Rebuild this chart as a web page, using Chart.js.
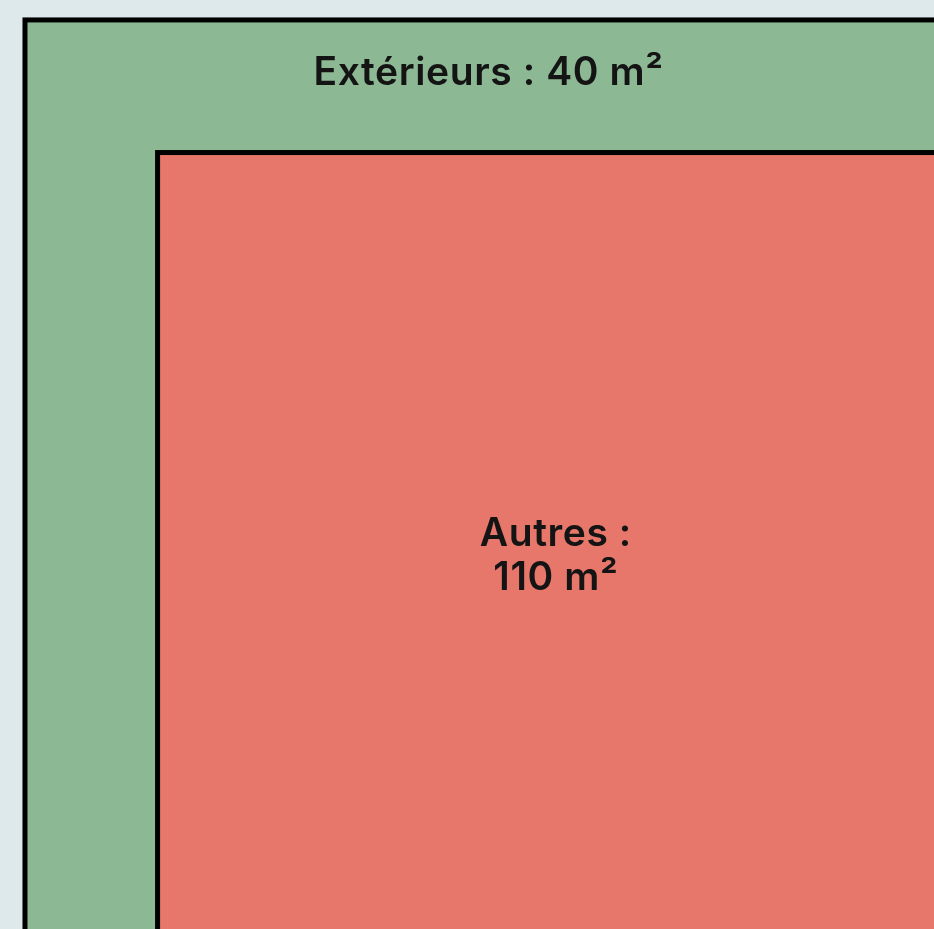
<!DOCTYPE html>
<html lang="fr">
<head>
<meta charset="utf-8">
<title>Surfaces</title>
<script src="https://cdn.jsdelivr.net/npm/chart.js@4/dist/chart.umd.min.js"></script>
<style>
    html, body { margin: 0; padding: 0; background: #dde9ea; }
    #wrap { width: 934px; height: 929px; position: relative; }
</style>
</head>
<body>
<div id="wrap"><canvas id="chart"></canvas></div>
<script>
// Surfaces, from the outside in
const categories = ['Extérieurs', 'Autres'];
const areas = [40, 110];
const unit = 'm²';
const colors = ['#8cb994', '#e6776a'];

// Nested squares share the bottom-right corner (0, 0); side = sqrt of the area it encloses
function sideOf(i) {
    let total = 0;
    for (let k = i; k < areas.length; k++) total += areas[k];
    return Math.sqrt(total);
}

const squarePlugin = {
    id: 'nestedSquares',
    afterDatasetsDraw(chart) {
        const ctx = chart.ctx;
        const x = chart.scales.x;
        const y = chart.scales.y;
        ctx.save();
        const boxes = [];
        categories.forEach((name, i) => {
            const s = sideOf(i);
            const left = x.getPixelForValue(-s);
            const right = x.getPixelForValue(0);
            const top = y.getPixelForValue(s);
            const bottom = y.getPixelForValue(0);
            boxes.push({ left, right, top, bottom });
            ctx.fillStyle = colors[i];
            ctx.fillRect(left, top, right - left, bottom - top);
            ctx.lineWidth = 5;
            ctx.strokeStyle = '#000';
            ctx.strokeRect(left, top, right - left, bottom - top);
        });

        ctx.fillStyle = '#141414';
        ctx.textAlign = 'center';
        ctx.textBaseline = 'middle';
        ctx.font = '600 39px Inter';
        ctx.letterSpacing = '0.6px';
        // outer label sits in the band above the next square
        const o = boxes[0];
        ctx.fillText(categories[0] + ' : ' + areas[0] + ' ' + unit, (o.left + o.right) / 2 + 2, o.top + 53);
        // inner label in the middle of the last square, on two lines
        const b = boxes[boxes.length - 1];
        const cx = (b.left + b.right) / 2 + 3;
        const cy = (b.top + b.bottom) / 2;
        const last = categories.length - 1;
        ctx.fillText(categories[last] + ' :', cx, cy - 13);
        ctx.fillText(areas[last] + ' ' + unit, cx, cy + 31);
        ctx.restore();
    }
};

new Chart(document.getElementById('chart'), {
    type: 'scatter',
    data: { datasets: [{ data: [], pointRadius: 0 }] },
    options: {
        responsive: true,
        maintainAspectRatio: false,
        animation: false,
        layout: { padding: 0 },
        scales: {
            x: { type: 'linear', display: false, min: -12.579, max: -0.186 },
            y: { type: 'linear', display: false, min: 0.186, max: 12.512 }
        },
        plugins: {
            legend: { display: false },
            tooltip: { enabled: false }
        }
    },
    plugins: [squarePlugin]
});
</script>
</body>
</html>
